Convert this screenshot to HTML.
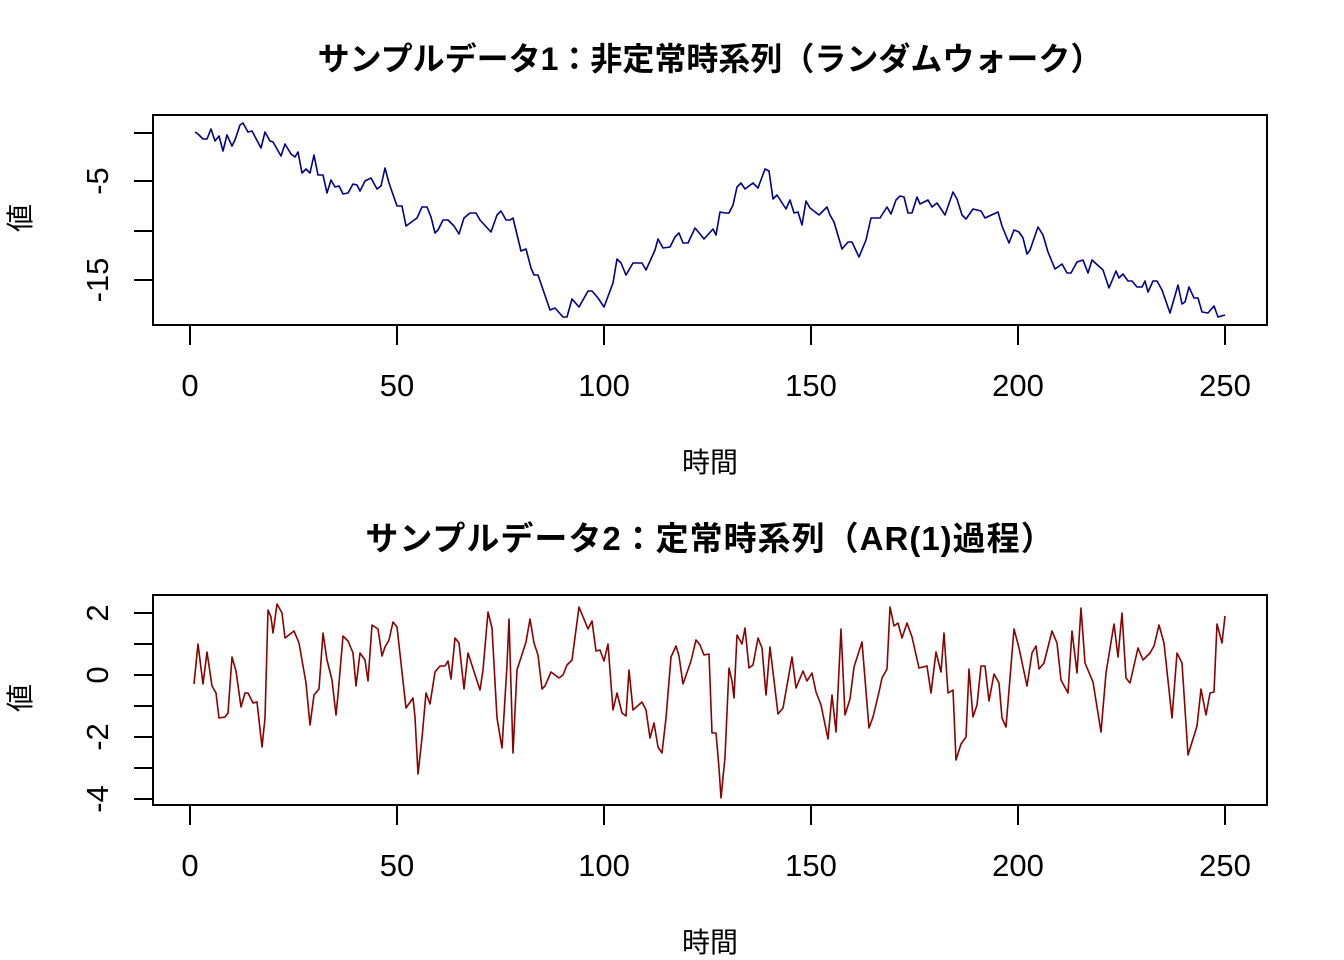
<!DOCTYPE html>
<html><head><meta charset="utf-8"><style>
html,body{margin:0;padding:0;background:#fff}
svg{display:block}
text{font-family:"Liberation Sans","Noto Sans CJK JP",sans-serif;fill:#000}
.t{font-size:32px;font-weight:bold}
.t2{font-size:33px;font-weight:bold;letter-spacing:1px}
.k{font-size:31px}
.l{font-size:28px}
</style></head><body>
<svg width="1344" height="960" viewBox="0 0 1344 960" xmlns="http://www.w3.org/2000/svg">
<!-- Panel 1 -->
<text class="t" x="710" y="70" text-anchor="middle">サンプルデータ1：非定常時系列（ランダムウォーク）</text>
<rect x="153" y="115" width="1114" height="210" fill="none" stroke="#000" stroke-width="2"/>
<g stroke="#000" stroke-width="2">
<line x1="134" y1="133" x2="153" y2="133"/><line x1="134" y1="181" x2="153" y2="181"/>
<line x1="134" y1="231" x2="153" y2="231"/><line x1="134" y1="280" x2="153" y2="280"/>
<line x1="190" y1="325" x2="190" y2="345"/><line x1="397" y1="325" x2="397" y2="345"/>
<line x1="604" y1="325" x2="604" y2="345"/><line x1="811" y1="325" x2="811" y2="345"/>
<line x1="1018" y1="325" x2="1018" y2="345"/><line x1="1225" y1="325" x2="1225" y2="345"/>
</g>
<text class="k" transform="translate(108,181) rotate(-90)" text-anchor="middle">-5</text>
<text class="k" transform="translate(108,280) rotate(-90)" text-anchor="middle">-15</text>
<g class="k" text-anchor="middle">
<text x="190" y="396">0</text><text x="397" y="396">50</text><text x="604" y="396">100</text>
<text x="811" y="396">150</text><text x="1018" y="396">200</text><text x="1225" y="396">250</text>
</g>
<text class="l" x="710" y="472" text-anchor="middle">時間</text>
<text class="l" transform="translate(30,218) rotate(-90)" text-anchor="middle">値</text>
<polyline fill="none" stroke="#00008B" stroke-width="1.6" stroke-linejoin="round" points="195,132 198,134 203,139 207,139 211,129 215,141 219,136 223,151 227,135 232,146 235,140 240,125 243,123 248,132 252,131 261,148 265,132 270,141 273,142 281,156 285,144 291,154 295,157 298,152 302,173 306,169 310,173 314,155 318,175 323,175 327,193 331,180 335,187 339,186 343,194 348,193 353,184 357,185 360,191 365,181 371,178 377,189 381,186 385,168 389,183 397,206 402,206 406,226 417,218 422,207 427,207 431,217 435,233 438,230 443,220 448,220 454,226 459,234 464,218 470,213 476,213 480,220 491,232 497,215 501,211 506,220 510,220 513,218 521,251 526,249 531,268 534,275 538,275 550,310 555,308 563,317 567,317 572,299 579,307 588,291 592,291 598,298 604,307 613,283 617,259 621,263 626,275 633,263 642,263 646,270 655,250 658,239 663,248 670,247 675,237 679,233 683,243 688,243 695,228 700,234 704,239 713,229 716,235 720,212 725,213 729,213 733,205 737,187 741,183 745,189 753,183 758,188 765,169 769,171 773,199 777,195 786,209 790,200 794,213 798,212 802,225 806,201 810,208 819,215 827,207 830,215 834,222 842,249 848,242 852,242 859,257 866,240 871,218 880,218 887,207 891,214 896,200 900,196 904,197 908,213 912,213 917,197 920,204 928,200 932,207 937,203 945,215 953,192 957,199 962,215 966,219 973,209 981,211 985,218 998,212 1002,226 1009,243 1014,230 1019,232 1023,238 1027,254 1030,250 1038,227 1043,235 1048,252 1055,269 1062,264 1067,273 1071,273 1077,262 1083,260 1088,273 1092,260 1103,270 1109,288 1116,271 1119,278 1123,274 1128,281 1132,281 1137,287 1142,287 1145,281 1148,292 1153,281 1157,281 1162,290 1170,313 1178,285 1182,304 1185,302 1189,287 1194,298 1198,298 1202,312 1208,313 1214,306 1218,317 1225,315"/>

<!-- Panel 2 -->
<text class="t2" x="710" y="550" text-anchor="middle">サンプルデータ2：定常時系列（AR(1)過程）</text>
<rect x="153" y="595" width="1114" height="210" fill="none" stroke="#000" stroke-width="2"/>
<g stroke="#000" stroke-width="2">
<line x1="134" y1="613" x2="153" y2="613"/><line x1="134" y1="644" x2="153" y2="644"/>
<line x1="134" y1="675" x2="153" y2="675"/><line x1="134" y1="706" x2="153" y2="706"/>
<line x1="134" y1="737" x2="153" y2="737"/><line x1="134" y1="768" x2="153" y2="768"/>
<line x1="134" y1="799" x2="153" y2="799"/>
<line x1="190" y1="805" x2="190" y2="825"/><line x1="397" y1="805" x2="397" y2="825"/>
<line x1="604" y1="805" x2="604" y2="825"/><line x1="811" y1="805" x2="811" y2="825"/>
<line x1="1018" y1="805" x2="1018" y2="825"/><line x1="1225" y1="805" x2="1225" y2="825"/>
</g>
<text class="k" transform="translate(108,613) rotate(-90)" text-anchor="middle">2</text>
<text class="k" transform="translate(108,675) rotate(-90)" text-anchor="middle">0</text>
<text class="k" transform="translate(108,737) rotate(-90)" text-anchor="middle">-2</text>
<text class="k" transform="translate(108,799) rotate(-90)" text-anchor="middle">-4</text>
<g class="k" text-anchor="middle">
<text x="190" y="876">0</text><text x="397" y="876">50</text><text x="604" y="876">100</text>
<text x="811" y="876">150</text><text x="1018" y="876">200</text><text x="1225" y="876">250</text>
</g>
<text class="l" x="710" y="952" text-anchor="middle">時間</text>
<text class="l" transform="translate(30,698) rotate(-90)" text-anchor="middle">値</text>
<polyline fill="none" stroke="#8B0000" stroke-width="1.6" stroke-linejoin="round" points="194,684 198,644 203,684 207,652 212,686 216,693 219,718 225,717 228,713 232,657 236,671 241,707 245,693 248,693 253,703 257,702 262,747 265,718 268,610 271,617 273,633 277,604 282,613 285,638 294,631 299,643 306,683 310,725 314,695 319,689 323,633 327,660 332,680 336,715 338,695 343,636 348,641 353,653 356,686 360,653 365,660 368,681 372,625 378,629 382,656 385,647 389,640 393,622 397,627 406,708 413,698 415,717 418,774 422,738 426,693 430,704 435,672 440,666 445,666 448,661 451,679 455,638 459,643 464,689 468,653 480,690 483,670 488,612 492,628 497,718 502,748 507,665 509,619 513,753 517,670 526,642 530,619 534,643 538,655 542,689 545,686 551,672 559,678 563,675 567,665 572,660 579,607 588,629 592,621 596,651 600,650 604,661 608,644 613,710 617,693 622,713 626,716 629,670 633,710 642,702 646,710 650,738 654,723 658,747 662,753 666,718 671,657 676,646 679,656 683,684 691,661 696,640 700,645 704,655 709,654 712,733 716,733 719,768 721,798 725,757 729,668 732,681 734,698 737,635 742,644 745,628 749,668 753,665 758,638 762,648 766,695 770,647 778,714 783,708 792,657 796,688 803,671 807,681 812,673 816,692 821,705 828,739 832,695 836,732 841,629 845,715 850,699 854,667 862,642 869,728 873,717 879,692 882,678 887,669 890,607 894,626 898,623 902,638 907,623 912,637 919,668 927,666 931,693 936,652 941,672 944,633 948,693 953,690 956,760 961,744 966,737 969,669 973,717 977,705 981,666 985,666 989,701 994,674 999,683 1002,718 1006,727 1014,629 1019,648 1027,686 1032,653 1036,646 1039,669 1044,663 1052,631 1057,643 1061,680 1068,693 1072,631 1077,673 1081,608 1085,663 1093,682 1101,732 1106,673 1114,624 1118,657 1122,613 1126,678 1130,683 1138,648 1143,660 1150,653 1154,646 1159,625 1164,643 1172,718 1177,653 1182,663 1188,755 1197,726 1201,689 1206,715 1210,693 1214,692 1217,624 1222,643 1225,616"/>
</svg>
</body></html>
